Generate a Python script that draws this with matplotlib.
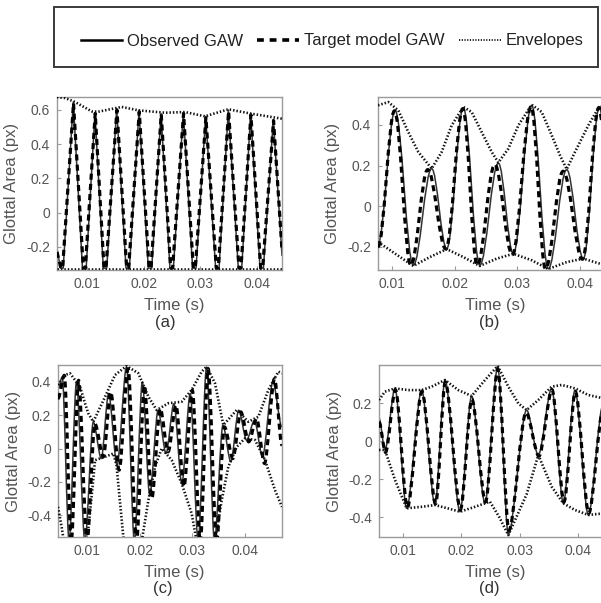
import matplotlib
matplotlib.use('Agg')
import matplotlib.pyplot as plt
from matplotlib.lines import Line2D
from matplotlib.patches import Rectangle, PathPatch
from matplotlib.path import Path

plt.rcParams['font.family'] = ['Liberation Sans', 'DejaVu Sans']

# ---------------- data ----------------
xtick_vals = [0.01, 0.02, 0.03, 0.04]
xtick_labels = ['0.01', '0.02', '0.03', '0.04']
legend_labels = ['Observed GAW', 'Target model GAW', 'Envelopes']
panel_captions = ['(a)', '(b)', '(c)', '(d)']

# panel (a)
obs_a_t = [0.00470, 0.00530, 0.00580, 0.00758, 0.00920, 0.00985, 0.01141, 0.01288, 0.01348,
           0.01524, 0.01688, 0.01748, 0.01918, 0.02082, 0.02142, 0.02306, 0.02464, 0.02524,
           0.02700, 0.02864, 0.02924, 0.03094, 0.03270, 0.03330, 0.03494, 0.03670, 0.03730,
           0.03888, 0.04053, 0.04113, 0.04288, 0.04441]
obs_a_v = [-0.21, -0.325, -0.325, 0.647, -0.325, -0.325, 0.585, -0.325, -0.325,
           0.608, -0.325, -0.325, 0.598, -0.325, -0.325, 0.580, -0.325, -0.325,
           0.586, -0.325, -0.325, 0.562, -0.325, -0.325, 0.600, -0.325, -0.325,
           0.578, -0.325, -0.325, 0.545, -0.25]
mod_a_t = [0.00470, 0.00540, 0.00570, 0.00762, 0.00935, 0.00970, 0.01145, 0.01300, 0.01335,
           0.01528, 0.01700, 0.01735, 0.01922, 0.02095, 0.02130, 0.02310, 0.02476, 0.02511,
           0.02704, 0.02876, 0.02911, 0.03098, 0.03282, 0.03317, 0.03498, 0.03682, 0.03717,
           0.03892, 0.04065, 0.04100, 0.04292, 0.04441]
mod_a_v = [-0.23, -0.325, -0.325, 0.640, -0.325, -0.325, 0.580, -0.325, -0.325,
           0.600, -0.325, -0.325, 0.590, -0.325, -0.325, 0.575, -0.325, -0.325,
           0.580, -0.325, -0.325, 0.555, -0.325, -0.325, 0.592, -0.325, -0.325,
           0.572, -0.325, -0.325, 0.538, -0.22]
env_a_up_t = [0.00471, 0.00612, 0.00788, 0.01083, 0.01200, 0.01612, 0.01906, 0.02376, 0.02729,
              0.03082, 0.03494, 0.03906, 0.04441]
env_a_up_v = [0.676, 0.670, 0.647, 0.592, 0.590, 0.618, 0.598, 0.584, 0.588, 0.563, 0.604, 0.578, 0.549]
env_a_lo_t = [0.00471, 0.01500, 0.02500, 0.03500, 0.04441]
env_a_lo_v = [-0.328, -0.328, -0.328, -0.328, -0.328]

# panel (b)
obs_b_t = [0.00777, 0.01048, 0.01340, 0.01633, 0.01873, 0.02138, 0.02400, 0.02697, 0.02936,
           0.03229, 0.03494, 0.03788, 0.04053, 0.04310, 0.04367]
obs_b_v = [-0.185, 0.472, -0.292, 0.185, -0.210, 0.485, -0.292, 0.212, -0.235, 0.497,
           -0.309, 0.180, -0.259, 0.490, 0.42]
mod_b_t = [0.00777, 0.01040, 0.01300, 0.01570, 0.01860, 0.02130, 0.02360, 0.02640, 0.02920,
           0.03220, 0.03450, 0.03730, 0.04040, 0.04300, 0.04367]
mod_b_v = [-0.20, 0.470, -0.292, 0.180, -0.212, 0.480, -0.292, 0.205, -0.240, 0.490,
           -0.309, 0.172, -0.262, 0.485, 0.40]
env_b_up_t = [0.00777, 0.00941, 0.01101, 0.01260, 0.01420, 0.01633, 0.01793, 0.01952, 0.02138,
              0.02271, 0.02431, 0.02591, 0.02697, 0.02856, 0.03016, 0.03229, 0.03389, 0.03549,
              0.03681, 0.03788, 0.03920, 0.04133, 0.04319, 0.04367]
env_b_up_v = [0.497, 0.513, 0.472, 0.365, 0.267, 0.185, 0.267, 0.398, 0.489, 0.464, 0.365,
              0.267, 0.215, 0.283, 0.398, 0.500, 0.464, 0.349, 0.250, 0.182, 0.267, 0.398,
              0.497, 0.49]
env_b_lo_t = [0.00777, 0.01048, 0.01340, 0.01606, 0.01873, 0.02138, 0.02400, 0.02670, 0.02936,
              0.03229, 0.03494, 0.03788, 0.04053, 0.04319, 0.04367]
env_b_lo_v = [-0.177, -0.234, -0.295, -0.251, -0.212, -0.251, -0.295, -0.259, -0.235,
              -0.267, -0.310, -0.276, -0.259, -0.284, -0.290]

# panel (c)
obs_c_t = [0.00449, 0.0053, 0.0066, 0.0080, 0.0096, 0.0112, 0.0127, 0.0141, 0.0157, 0.0175,
           0.0190, 0.0205, 0.0219, 0.0235, 0.0250, 0.0265, 0.0280, 0.0296, 0.0311, 0.0327,
           0.0342, 0.0358, 0.0373, 0.0388, 0.0403, 0.0418, 0.0433, 0.0453, 0.0470]
obs_c_v = [0.36, 0.43, -0.56, 0.40, -0.56, 0.16, -0.06, 0.33, -0.10, 0.49,
           -0.56, 0.40, -0.28, 0.23, -0.03, 0.27, -0.21, 0.33, -0.56, 0.49,
           -0.56, 0.14, -0.08, 0.23, 0.05, 0.17, -0.05, 0.40, 0.13]
mod_c_t = [0.00449, 0.0057, 0.0070, 0.0084, 0.0100, 0.0115, 0.0131, 0.0145, 0.0161, 0.0178,
           0.0194, 0.0209, 0.0223, 0.0239, 0.0254, 0.0269, 0.0284, 0.0300, 0.0315, 0.0330,
           0.0346, 0.0361, 0.0377, 0.0392, 0.0407, 0.0422, 0.0437, 0.0456, 0.0470]
mod_c_v = [0.30, 0.44, -0.56, 0.41, -0.56, 0.15, -0.05, 0.34, -0.13, 0.48,
           -0.56, 0.38, -0.30, 0.24, -0.02, 0.26, -0.23, 0.35, -0.56, 0.48,
           -0.56, 0.13, -0.06, 0.22, 0.04, 0.18, -0.09, 0.42, 0.02]
env_c_up_t = [0.00449, 0.00582, 0.00677, 0.00772, 0.00867, 0.00962, 0.01025, 0.01120, 0.01342,
              0.01532, 0.01753, 0.01975, 0.02165, 0.02323, 0.02544, 0.02797, 0.02987, 0.03177,
              0.03272, 0.03430, 0.03588, 0.03842, 0.04063, 0.04253, 0.04443, 0.04633, 0.04702]
env_c_up_v = [0.382, 0.442, 0.452, 0.412, 0.372, 0.272, 0.211, 0.161, 0.310, 0.442, 0.496,
              0.452, 0.312, 0.231, 0.272, 0.281, 0.352, 0.462, 0.492, 0.392, 0.141, 0.231,
              0.161, 0.191, 0.352, 0.462, 0.452]
env_c_lo_t = [0.00449, 0.00519, 0.00560, 0.01000, 0.01100, 0.01152, 0.01342, 0.01500, 0.01560,
              0.01620, 0.01680, 0.01700, 0.02038, 0.02165, 0.02291, 0.02418, 0.02608, 0.02797,
              0.02987, 0.03082, 0.03430, 0.03557, 0.03683, 0.03842, 0.04000, 0.04190, 0.04380,
              0.04570, 0.04702]
env_c_lo_v = [-0.351, -0.472, -0.56, -0.56, -0.25, -0.07, -0.05, -0.03, -0.10,
              -0.30, -0.50, -0.56, -0.56, -0.311, -0.11, 0.0, -0.07, -0.21,
              -0.391, -0.56, -0.56, -0.311, -0.11, 0.01, 0.061, 0.051, -0.07,
              -0.251, -0.351]

# panel (d)
obs_d_t = [0.00589, 0.00691, 0.00863, 0.01063, 0.01320, 0.01549, 0.01720, 0.01977, 0.02177,
           0.02406, 0.02623, 0.02806, 0.03120, 0.03320, 0.03549, 0.03749, 0.03949, 0.04177,
           0.04429]
obs_d_v = [0.12, -0.047, 0.277, -0.354, 0.268, -0.337, 0.321, -0.372, 0.237, -0.328,
           0.391, -0.49, 0.163, -0.074, 0.277, -0.328, 0.268, -0.389, 0.19]
mod_d_t = [0.00589, 0.00700, 0.00870, 0.01075, 0.01325, 0.01560, 0.01725, 0.01985, 0.02180,
           0.02415, 0.02625, 0.02815, 0.03110, 0.03330, 0.03555, 0.03760, 0.03955, 0.04185,
           0.04429]
mod_d_v = [0.10, -0.06, 0.27, -0.35, 0.26, -0.33, 0.31, -0.36, 0.22, -0.32,
           0.38, -0.47, 0.15, -0.08, 0.27, -0.32, 0.26, -0.38, 0.16]
env_d_up_t = [0.00589, 0.00691, 0.00863, 0.01091, 0.01320, 0.01491, 0.01720, 0.01949, 0.02177,
              0.02406, 0.02623, 0.02806, 0.02977, 0.03120, 0.03320, 0.03549, 0.03720, 0.03949,
              0.04177, 0.04429]
env_d_up_v = [0.216, 0.260, 0.277, 0.268, 0.268, 0.286, 0.321, 0.268, 0.237, 0.321, 0.395,
              0.286, 0.198, 0.163, 0.216, 0.286, 0.295, 0.277, 0.242, 0.225]
env_d_lo_t = [0.00589, 0.00691, 0.00863, 0.01063, 0.01320, 0.01549, 0.01777, 0.01977, 0.02234,
              0.02406, 0.02491, 0.02650, 0.02806, 0.03120, 0.03320, 0.03549, 0.03749, 0.03949,
              0.04177, 0.04429]
env_d_lo_v = [-0.047, -0.047, -0.205, -0.354, -0.346, -0.337, -0.355, -0.372, -0.346,
              -0.328, -0.319, -0.400, -0.495, -0.280, -0.074, -0.240, -0.328, -0.363,
              -0.389, -0.381]

# ---------------- styling / layout ----------------
panels = [
    dict(pos=[57, 97, 282, 270], xlim=(0.004706, 0.04441), ylim=(-0.336, 0.676),
         yticks=[-0.2, 0, 0.2, 0.4, 0.6], ytl=['-0.2', '0', '0.2', '0.4', '0.6'],
         obs=(obs_a_t, obs_a_v), mod=(mod_a_t, mod_a_v), smooth=0.0,
         up=(env_a_up_t, env_a_up_v), lo=(env_a_lo_t, env_a_lo_v), cap=(165, 322)),
    dict(pos=[378, 97, 603, 270], xlim=(0.007766, 0.04367), ylim=(-0.315, 0.538),
         yticks=[-0.2, 0, 0.2, 0.4], ytl=['-0.2', '0', '0.2', '0.4'],
         obs=(obs_b_t, obs_b_v), mod=(mod_b_t, mod_b_v), smooth=0.36,
         up=(env_b_up_t, env_b_up_v), lo=(env_b_lo_t, env_b_lo_v), cap=(489, 322)),
    dict(pos=[58, 365, 282, 537], xlim=(0.004494, 0.04702), ylim=(-0.532, 0.502),
         yticks=[-0.4, -0.2, 0, 0.2, 0.4], ytl=['-0.4', '-0.2', '0', '0.2', '0.4'],
         obs=(obs_c_t, obs_c_v), mod=(mod_c_t, mod_c_v), smooth=0.3,
         up=(env_c_up_t, env_c_up_v), lo=(env_c_lo_t, env_c_lo_v), cap=(163, 589)),
    dict(pos=[379, 365, 603, 537], xlim=(0.005886, 0.04429), ylim=(-0.505, 0.40),
         yticks=[-0.4, -0.2, 0, 0.2], ytl=['-0.4', '-0.2', '0', '0.2'],
         obs=(obs_d_t, obs_d_v), mod=(mod_d_t, mod_d_v), smooth=0.3,
         up=(env_d_up_t, env_d_up_v), lo=(env_d_lo_t, env_d_lo_v), cap=(489, 589)),
]

W, H = 601, 603
OBS = dict(color='#333333', lw=1.1, ls='-', zorder=2)
MOD = dict(color='black', lw=2.3, ls=(0, (1.9, 1.3)), zorder=3)
ENV = dict(color='#111111', lw=1.9, ls=(0, (0.55, 0.75)), zorder=4)
TXT = '#555555'
SPINE = '#9a9a9a'


def draw_wave(ax, ts, vs, k, style):
    """Line through the read extrema; with k>0 each segment is drawn as a smooth
    Bezier arc with flat tangents at the extrema (rendering only)."""
    if k <= 0:
        ax.plot(ts, vs, **style)
        return
    verts = [(ts[0], vs[0])]
    codes = [Path.MOVETO]
    for i in range(len(ts) - 1):
        dx = ts[i + 1] - ts[i]
        verts += [(ts[i] + k * dx, vs[i]), (ts[i + 1] - k * dx, vs[i + 1]), (ts[i + 1], vs[i + 1])]
        codes += [Path.CURVE4] * 3
    ax.add_patch(PathPatch(Path(verts, codes), fill=False, edgecolor=style['color'],
                           lw=style['lw'], ls=style['ls'], zorder=style['zorder'],
                           capstyle='butt', joinstyle='round'))


fig = plt.figure(figsize=(W / 100, H / 100), dpi=100)

for p, cap in zip(panels, panel_captions):
    l, t, r, b = p['pos']
    ax = fig.add_axes([l / W, 1 - b / H, (r - l) / W, (b - t) / H])
    draw_wave(ax, *p['obs'], p['smooth'], OBS)
    draw_wave(ax, *p['mod'], p['smooth'], MOD)
    ax.plot(*p['up'], **ENV)
    ax.plot(*p['lo'], **ENV)
    ax.set_xlim(*p['xlim'])
    ax.set_ylim(*p['ylim'])
    ax.set_xticks(xtick_vals)
    ax.set_xticklabels(xtick_labels)
    ax.set_yticks(p['yticks'])
    ax.set_yticklabels(p['ytl'])
    ax.tick_params(direction='in', length=3, width=0.8, color=SPINE, labelcolor=TXT,
                   labelsize=10, pad=5)
    for s in ax.spines.values():
        s.set_color(SPINE)
        s.set_linewidth(1.0)
    ax.set_xlabel('Time (s)', fontsize=12, color=TXT)
    ax.set_ylabel('Glottal Area (px)', fontsize=12, color=TXT)
    ax.xaxis.set_label_coords(0.52, -0.16 if t < 200 else -0.165)
    ax.yaxis.set_label_coords(-0.167, 0.5)
    fig.text(p['cap'][0] / W, 1 - p['cap'][1] / H, cap, fontsize=12, color='#333333',
             ha='center', va='center')

# legend box
fig.patches.append(Rectangle((54 / W, 1 - 67 / H), 544 / W, 60 / H, transform=fig.transFigure,
                             fill=False, edgecolor='#3a3a3a', lw=1.4, zorder=5))
handles = [Line2D([], [], color='black', lw=1.8, ls='-'),
           Line2D([], [], color='black', lw=2.6, ls=(0, (1.9, 1.6))),
           Line2D([], [], color='#1a1a1a', lw=1.4, ls=(0, (0.6, 0.8)))]
fig.legend(handles, legend_labels, loc='center', bbox_to_anchor=(332 / W, 1 - 41 / H),
           ncol=3, frameon=False, fontsize=12, handlelength=2.5, handletextpad=0.3,
           columnspacing=0.85, labelcolor='#222222')

fig.savefig('out.png', dpi=100)
